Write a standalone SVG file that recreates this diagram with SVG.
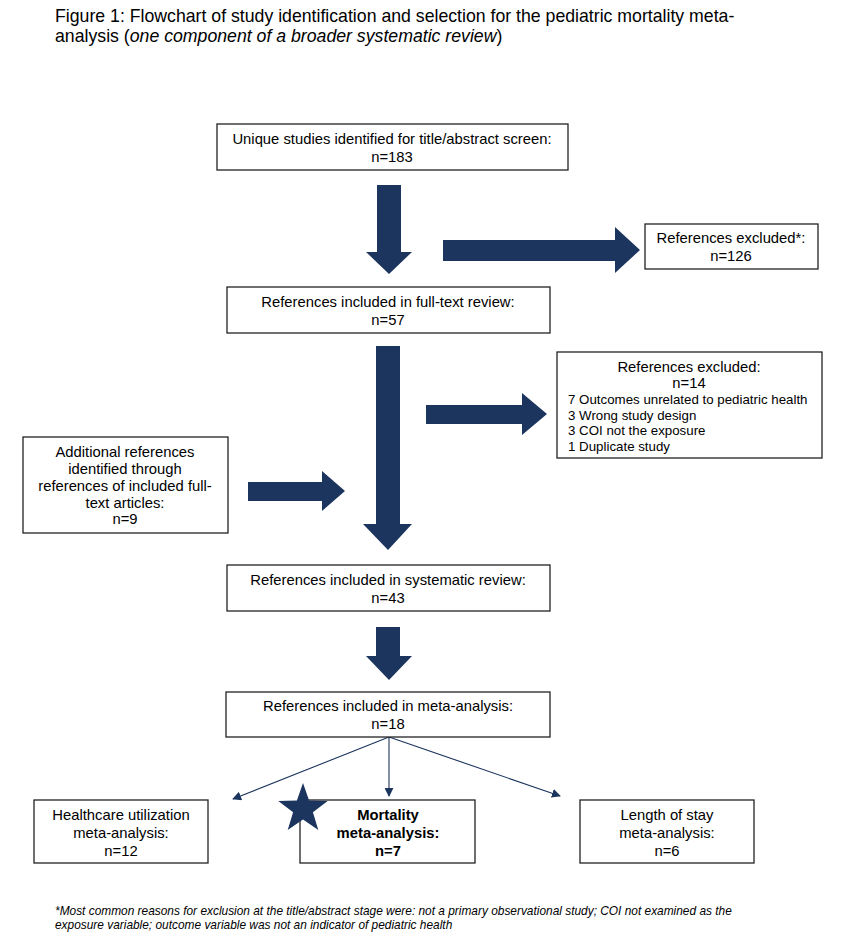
<svg xmlns="http://www.w3.org/2000/svg" width="841" height="939" viewBox="0 0 841 939">
<style>
.box{fill:#fff;stroke:#222;stroke-width:1.3}
.t{font-family:"Liberation Sans",Arial,sans-serif;font-size:14.8px;fill:#000;text-anchor:middle}
.l{font-family:"Liberation Sans",Arial,sans-serif;font-size:13.3px;fill:#000}
.big{fill:#1c355e}
.thin{stroke:#1c355e;stroke-width:1.1;fill:none;marker-end:url(#ah)}
</style>
<defs>
<marker id="ah" viewBox="0 0 10 10" refX="9" refY="5" markerWidth="9" markerHeight="9" markerUnits="userSpaceOnUse" orient="auto">
<path d="M0,0 L10,5 L0,10 Z" fill="#1c355e"/>
</marker>
</defs>
<rect width="841" height="939" fill="#fff"/>
<g id="title" font-family="Liberation Sans,Arial,sans-serif" font-size="17.7" fill="#000">
<text x="55" y="22">Figure 1: Flowchart of study identification and selection for the pediatric mortality meta-</text>
<text x="55" y="42">analysis (<tspan font-style="italic">one component of a broader systematic review</tspan>)</text>
</g>
<g id="connectors">
<path class="big" d="M377,185 H401 V252 H412 L389,274 L366,252 H377 Z"/>
<path class="big" d="M443,240 H615 V227 L640,250 L615,273 V261 H443 Z"/>
<path class="big" d="M376,346 H400 V524 H412 L388,550 L363,524 H376 Z"/>
<path class="big" d="M426,405 H522 V393 L547,414 L522,435 V424 H426 Z"/>
<path class="big" d="M248,482 H322 V471 L345,491 L322,511 V501 H248 Z"/>
<path class="big" d="M376,627 H400 V656 H412 L389,680 L366,656 H376 Z"/>
<line class="thin" x1="389" y1="737" x2="233" y2="799"/>
<line class="thin" x1="389" y1="737" x2="389" y2="796"/>
<line class="thin" x1="389" y1="737" x2="560" y2="796"/>
</g>
<g id="n1"><rect class="box" x="217" y="124" width="351" height="46"/>
<text class="t" x="392" y="144">Unique studies identified for title/abstract screen:</text>
<text class="t" x="392" y="162">n=183</text></g>
<g id="n2"><rect class="box" x="645" y="224" width="173" height="45"/>
<text class="t" x="731" y="243">References excluded*:</text>
<text class="t" x="731" y="261">n=126</text></g>
<g id="n3"><rect class="box" x="227" y="287" width="323" height="46"/>
<text class="t" x="388" y="307">References included in full-text review:</text>
<text class="t" x="388" y="325">n=57</text></g>
<g id="n4"><rect class="box" x="557" y="352" width="265" height="106"/>
<text class="t" x="689" y="372">References excluded:</text>
<text class="t" x="689" y="388">n=14</text>
<text class="l" x="568" y="404">7 Outcomes unrelated to pediatric health</text>
<text class="l" x="568" y="420">3 Wrong study design</text>
<text class="l" x="568" y="435">3 COI not the exposure</text>
<text class="l" x="568" y="451">1 Duplicate study</text></g>
<g id="n5"><rect class="box" x="23" y="437" width="205" height="96"/>
<text class="t" x="125" y="457">Additional references</text>
<text class="t" x="125" y="474">identified through</text>
<text class="t" x="125" y="491">references of included full-</text>
<text class="t" x="125" y="508">text articles:</text>
<text class="t" x="125" y="524">n=9</text></g>
<g id="n6"><rect class="box" x="227" y="565" width="323" height="46"/>
<text class="t" x="388" y="585">References included in systematic review:</text>
<text class="t" x="388" y="603">n=43</text></g>
<g id="n7"><rect class="box" x="226" y="692" width="324" height="45"/>
<text class="t" x="388" y="711">References included in meta-analysis:</text>
<text class="t" x="388" y="729">n=18</text></g>
<g id="n8"><rect class="box" x="34" y="800" width="174" height="63"/>
<text class="t" x="121" y="820">Healthcare utilization</text>
<text class="t" x="121" y="838">meta-analysis:</text>
<text class="t" x="121" y="856">n=12</text></g>
<g id="n9"><rect class="box" x="300" y="800" width="175" height="63"/>
<text class="t" x="388" y="820" font-weight="bold">Mortality</text>
<text class="t" x="388" y="838" font-weight="bold">meta-analysis:</text>
<text class="t" x="388" y="856" font-weight="bold">n=7</text>
<polygon class="big" points="303,783 309.1,800.6 327.7,801 312.9,812.3 318.3,830.1 303,819.5 287.7,830.1 293.1,812.3 278.3,801 296.9,800.6"/></g>
<g id="n10"><rect class="box" x="580" y="800" width="174" height="63"/>
<text class="t" x="667" y="820">Length of stay</text>
<text class="t" x="667" y="838">meta-analysis:</text>
<text class="t" x="667" y="856">n=6</text></g>
<g id="footnote" font-family="Liberation Sans,Arial,sans-serif" font-size="11.9" font-style="italic" fill="#000">
<text x="55" y="915">*Most common reasons for exclusion at the title/abstract stage were: not a primary observational study; COI not examined as the</text>
<text x="55" y="929">exposure variable; outcome variable was not an indicator of pediatric health</text>
</g>
</svg>
